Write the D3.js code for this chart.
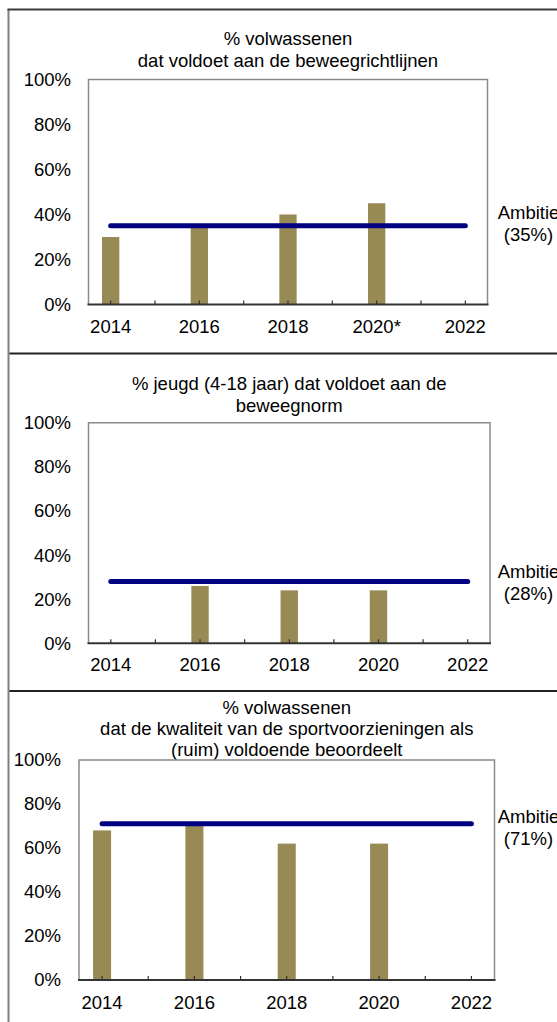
<!DOCTYPE html>
<html>
<head>
<meta charset="utf-8">
<script src="https://cdn.jsdelivr.net/npm/d3@7"></script>
<style>
  body { margin: 0; background: #fff; }
  svg { display: block; font-family: "Liberation Sans", Arial, sans-serif; }
</style>
</head>
<body>
<div id="chart"></div>
<script>
// data
const years = [2014, 2015, 2016, 2017, 2018, 2019, 2020, 2021, 2022];
const labels1 = {2014: "2014", 2016: "2016", 2018: "2018", 2020: "2020*", 2022: "2022"};
const labels = {2014: "2014", 2016: "2016", 2018: "2018", 2020: "2020", 2022: "2022"};
const yTicks = [0, 20, 40, 60, 80, 100];

const barYears1 = [2014, 2016, 2018, 2020];
const values1 = [30, 35, 40, 45];
const target1 = 35;

const barYears2 = [2016, 2018, 2020];
const values2 = [26, 24, 24];
const target2 = 28;

const barYears3 = [2014, 2016, 2018, 2020];
const values3 = [68, 70, 62, 62];
const target3 = 71;

const W = 557, H = 1022;
const FS = "18.5px";
const svg = d3.select("#chart").append("svg")
  .attr("width", W).attr("height", H);

// outer frame + separators
svg.append("line").attr("x1", 8.5).attr("x2", 8.5).attr("y1", 9).attr("y2", H)
  .attr("stroke", "#808080").attr("stroke-width", 2);
svg.append("line").attr("x1", 7.5).attr("x2", W).attr("y1", 9.5).attr("y2", 9.5)
  .attr("stroke", "#3a3a3a").attr("stroke-width", 2);
[353.5, 691].forEach(y => {
  svg.append("line").attr("x1", 9.5).attr("x2", W).attr("y1", y).attr("y2", y)
    .attr("stroke", "#222").attr("stroke-width", 2);
});

function panel(cfg) {
  const g = svg.append("g");
  const x = d3.scaleBand().domain(years).range([cfg.left, cfg.right]).padding(0);
  const y = d3.scaleLinear().domain([0, 100]).range([cfg.bottom, cfg.top]);
  const cx = d => x(d) + x.bandwidth() / 2;

  // title
  g.append("text")
    .attr("text-anchor", "middle")
    .style("font-size", FS)
    .selectAll("tspan")
    .data(cfg.title)
    .enter().append("tspan")
    .attr("x", (cfg.left + cfg.right) / 2)
    .attr("y", (d, i) => cfg.titleY + i * 21.3)
    .attr("dy", "0.35em")
    .text(d => d);

  // plot border (top/left/right)
  g.append("path")
    .attr("d", `M${cfg.left},${cfg.bottom}V${cfg.top}H${cfg.right}V${cfg.bottom}`)
    .attr("fill", "none").attr("stroke", "#8a8a8a").attr("stroke-width", 1.5);

  // bars
  const bw = x.bandwidth() * 0.39;
  g.selectAll("rect.bar")
    .data(cfg.barYears.map((yr, i) => ({yr, v: cfg.values[i]})))
    .enter().append("rect")
    .attr("class", "bar")
    .attr("x", d => cx(d.yr) - bw / 2)
    .attr("width", bw)
    .attr("y", d => y(d.v))
    .attr("height", d => y(0) - y(d.v))
    .attr("fill", "#978a55");

  // y axis labels
  g.selectAll("text.ylab")
    .data(yTicks)
    .enter().append("text")
    .attr("class", "ylab")
    .attr("x", cfg.yLabelX)
    .attr("y", d => y(d))
    .attr("dy", "0.35em")
    .attr("text-anchor", "end")
    .style("font-size", FS)
    .text(d => d + "%");

  // x axis
  const xAxis = d3.axisBottom(x)
    .tickSizeInner(-4).tickSizeOuter(0)
    .tickFormat(d => cfg.labels[d] || "");
  const ax = g.append("g")
    .attr("transform", `translate(0,${cfg.bottom})`)
    .call(xAxis);
  ax.select(".domain").attr("stroke", "#333").attr("stroke-width", 2)
    .attr("d", `M${cfg.left - 1},0H${cfg.right + 1}`);
  ax.selectAll(".tick line").attr("stroke", "#333").attr("stroke-width", 1.2);
  ax.selectAll(".tick text")
    .attr("y", cfg.xLabelY - cfg.bottom)
    .attr("dy", "0.35em")
    .attr("fill", "#000")
    .style("font-size", FS)
    .style("font-family", "Liberation Sans, Arial, sans-serif");

  // target line
  g.append("line")
    .attr("x1", cx(years[0])).attr("x2", cx(years[years.length - 1]))
    .attr("y1", y(cfg.target)).attr("y2", y(cfg.target))
    .attr("stroke", "#000080").attr("stroke-width", 5)
    .attr("stroke-linecap", "round");

  // ambitie label
  const t = g.append("text").attr("text-anchor", "middle").style("font-size", FS);
  t.append("tspan").attr("x", 528.5).attr("y", cfg.ambY).attr("dy", "0.35em").text("Ambitie");
  t.append("tspan").attr("x", 528.5).attr("y", cfg.ambY + 21.5).attr("dy", "0.35em")
    .text("(" + cfg.target + "%)");
}

panel({
  title: ["% volwassenen", "dat voldoet aan de beweegrichtlijnen"],
  titleY: 39, left: 88.5, right: 487.5, top: 79.5, bottom: 304.5,
  yLabelX: 71, xLabelY: 327, ambY: 213,
  labels: labels1, barYears: barYears1, values: values1, target: target1
});

panel({
  title: ["% jeugd (4-18 jaar) dat voldoet aan de", "beweegnorm"],
  titleY: 384, left: 88.5, right: 490, top: 422.7, bottom: 643.3,
  yLabelX: 71, xLabelY: 665, ambY: 571.7,
  labels: labels, barYears: barYears2, values: values2, target: target2
});

panel({
  title: ["% volwassenen", "dat de kwaliteit van de sportvoorzieningen als", "(ruim) voldoende beoordeelt"],
  titleY: 707.3, left: 79, right: 494.5, top: 760, bottom: 980,
  yLabelX: 61, xLabelY: 1003, ambY: 817,
  labels: labels, barYears: barYears3, values: values3, target: target3
});
</script>
</body>
</html>
